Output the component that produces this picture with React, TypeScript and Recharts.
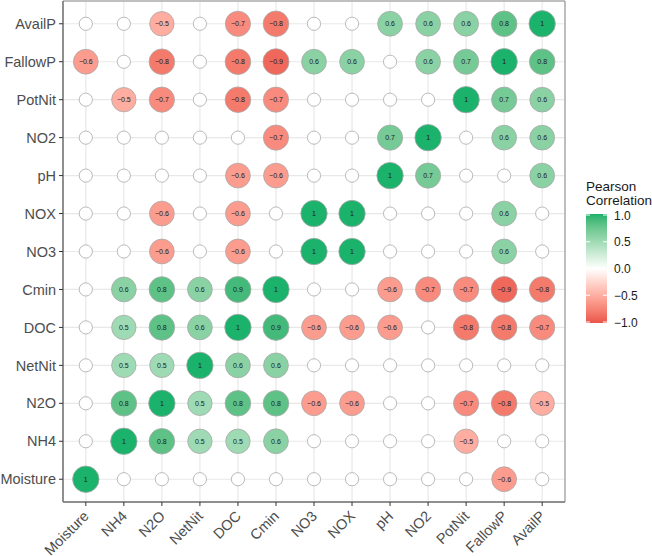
import React from "react"
import {
  ScatterChart,
  Scatter,
  XAxis,
  YAxis,
  CartesianGrid,
  ReferenceArea,
} from "recharts"

const vars = ["Moisture", "NH4", "N2O", "NetNit", "DOC", "Cmin", "NO3", "NOX", "pH", "NO2", "PotNit", "FallowP", "AvailP"]

// one row per variable, bottom to top; columns in vars order; 0 = not shown
const moisture = [1, 0, 0, 0, 0, 0, 0, 0, 0, 0, 0, -0.6, 0]
const nh4 = [0, 1, 0.8, 0.5, 0.5, 0.6, 0, 0, 0, 0, -0.5, 0, 0]
const n2o = [0, 0.8, 1, 0.5, 0.8, 0.8, -0.6, -0.6, 0, 0, -0.7, -0.8, -0.5]
const netNit = [0, 0.5, 0.5, 1, 0.6, 0.6, 0, 0, 0, 0, 0, 0, 0]
const doc = [0, 0.5, 0.8, 0.6, 1, 0.9, -0.6, -0.6, -0.6, 0, -0.8, -0.8, -0.7]
const cmin = [0, 0.6, 0.8, 0.6, 0.9, 1, 0, 0, -0.6, -0.7, -0.7, -0.9, -0.8]
const no3 = [0, 0, -0.6, 0, -0.6, 0, 1, 1, 0, 0, 0, 0.6, 0]
const nox = [0, 0, -0.6, 0, -0.6, 0, 1, 1, 0, 0, 0, 0.6, 0]
const ph = [0, 0, 0, 0, -0.6, -0.6, 0, 0, 1, 0.7, 0, 0, 0.6]
const no2 = [0, 0, 0, 0, 0, -0.7, 0, 0, 0.7, 1, 0, 0.6, 0.6]
const potNit = [0, -0.5, -0.7, 0, -0.8, -0.7, 0, 0, 0, 0, 1, 0.7, 0.6]
const fallowP = [-0.6, 0, -0.8, 0, -0.8, -0.9, 0.6, 0.6, 0, 0.6, 0.7, 1, 0.8]
const availP = [0, 0, -0.5, 0, -0.7, -0.8, 0, 0, 0.6, 0.6, 0.6, 0.8, 1]

const rows = [moisture, nh4, n2o, netNit, doc, cmin, no3, nox, ph, no2, potNit, fallowP, availP]
const legendTicks = [1, 0.5, 0, -0.5, -1]

const data = rows.flatMap((row, r) => row.map((v, c) => ({ x: c, y: r, v })))
const idx = vars.map((_, i) => i)

const FONT = "'Liberation Sans', Arial, sans-serif"
const LOW = "#E9554A"
const HIGH = "#1BB26B"

// lab interpolation like scales::div_gradient_pal
function hexToRgb(h: string) {
  return [1, 3, 5].map((i) => parseInt(h.slice(i, i + 2), 16))
}
function lin(c: number) {
  c /= 255
  return c <= 0.04045 ? c / 12.92 : Math.pow((c + 0.055) / 1.055, 2.4)
}
function unlin(c: number) {
  const v = c <= 0.0031308 ? 12.92 * c : 1.055 * Math.pow(c, 1 / 2.4) - 0.055
  return Math.max(0, Math.min(255, Math.round(v * 255)))
}
const WX = 0.95047, WZ = 1.08883
function rgbToLab(rgb: number[]) {
  const [r, g, b] = rgb.map(lin)
  const X = (0.4124 * r + 0.3576 * g + 0.1805 * b) / WX
  const Y = 0.2126 * r + 0.7152 * g + 0.0722 * b
  const Z = (0.0193 * r + 0.1192 * g + 0.9505 * b) / WZ
  const f = (t: number) => (t > 0.008856 ? Math.cbrt(t) : 7.787 * t + 16 / 116)
  return [116 * f(Y) - 16, 500 * (f(X) - f(Y)), 200 * (f(Y) - f(Z))]
}
function labToRgb(lab: number[]) {
  const fy = (lab[0] + 16) / 116
  const fx = fy + lab[1] / 500
  const fz = fy - lab[2] / 200
  const inv = (t: number) => (t ** 3 > 0.008856 ? t ** 3 : (t - 16 / 116) / 7.787)
  const X = inv(fx) * WX, Y = inv(fy), Z = inv(fz) * WZ
  const r = 3.2406 * X - 1.5372 * Y - 0.4986 * Z
  const g = -0.9689 * X + 1.8758 * Y + 0.0415 * Z
  const b = 0.0557 * X - 0.204 * Y + 1.057 * Z
  return `rgb(${unlin(r)},${unlin(g)},${unlin(b)})`
}
const labLow = rgbToLab(hexToRgb(LOW))
const labHigh = rgbToLab(hexToRgb(HIGH))
const labMid = rgbToLab([255, 255, 255])
function fillFor(v: number) {
  const end = v < 0 ? labLow : labHigh
  const t = Math.min(1, Math.abs(v))
  return labToRgb(labMid.map((m, i) => m + (end[i] - m) * t))
}

function fmt(v: number) {
  if (Math.abs(v) === 1) return v < 0 ? "\u22121" : "1"
  const s = Math.abs(v).toFixed(1)
  return v < 0 ? "\u2212" + s : s
}

function Bubble(props: any) {
  const { cx, cy, payload } = props
  const v = payload.v
  if (v === 0) {
    return <circle cx={cx} cy={cy} r={6.6} fill="#ffffff" stroke="#a8a8a8" strokeWidth={0.8} />
  }
  const r = 11.2 + 2 * Math.abs(v)
  return (
    <g>
      <circle cx={cx} cy={cy} r={r} fill={fillFor(v)} stroke="#a8a8a8" strokeWidth={0.8} />
      <text x={cx} y={cy} textAnchor="middle" dominantBaseline="central" fontSize={7} fill="#1a1a1a" fontFamily={FONT}>
        {fmt(v)}
      </text>
    </g>
  )
}

function XTick(props: any) {
  const { x, y, payload } = props
  const tx = x + 4
  const ty = y + 9
  return (
    <text x={tx} y={ty} transform={`rotate(-45 ${tx} ${ty})`} textAnchor="end" fontSize={14.5} fill="#4d4d4d" fontFamily={FONT}>
      {vars[payload.value]}
    </text>
  )
}

function ColorLegend() {
  const top = 215
  const bottom = 322
  const stops = Array.from({ length: 21 }, (_, i) => 1 - i * 0.1)
  const yOf = (v: number) => top + ((1 - v) / 2) * (bottom - top)
  return (
    <svg width={652} height={556} style={{ position: "absolute", left: 0, top: 0, pointerEvents: "none" }}>
      <defs>
        <linearGradient id="corrbar" x1="0" y1="0" x2="0" y2="1">
          {stops.map((v, i) => (
            <stop key={i} offset={`${(i / 20) * 100}%`} stopColor={fillFor(v)} />
          ))}
        </linearGradient>
      </defs>
      <text x={586} y={191} fontSize={13.5} fill="#1a1a1a" fontFamily={FONT}>Pearson</text>
      <text x={586} y={205} fontSize={13.5} fill="#1a1a1a" fontFamily={FONT}>Correlation</text>
      <rect x={586} y={top - 1} width={21} height={bottom - top + 2} fill="url(#corrbar)" />
      {legendTicks.map((v) => (
        <g key={v}>
          <line x1={586} x2={590} y1={yOf(v)} y2={yOf(v)} stroke="#ffffff" strokeWidth={1} />
          <line x1={603} x2={607} y1={yOf(v)} y2={yOf(v)} stroke="#ffffff" strokeWidth={1} />
          <text x={614} y={yOf(v) + 0.5} dominantBaseline="central" fontSize={12} fill="#1a1a1a" fontFamily={FONT}>
            {v < 0 ? "\u2212" + Math.abs(v).toFixed(1) : v.toFixed(1)}
          </text>
        </g>
      ))}
    </svg>
  )
}

export default function App() {
  return (
    <div style={{ position: "absolute", left: 0, top: 0, width: 652, height: 556, background: "#ffffff" }}>
      <ScatterChart width={652} height={556} margin={{ top: 1, right: 87, bottom: 0, left: 0 }}>
        <CartesianGrid stroke="#e8e8e8" strokeWidth={1.2} />
        <XAxis
          type="number"
          dataKey="x"
          domain={[-0.6, 12.6]}
          ticks={idx}
          interval={0}
          allowDataOverflow
          height={54}
          tickSize={4}
          tickMargin={2}
          tickLine={{ stroke: "#333333" }}
          axisLine={{ stroke: "#7f7f7f", strokeWidth: 1.5 }}
          tick={<XTick />}
        />
        <YAxis
          type="number"
          dataKey="y"
          domain={[-0.6, 12.6]}
          ticks={idx}
          interval={0}
          allowDataOverflow
          width={63}
          tickSize={4}
          tickMargin={3}
          tickLine={{ stroke: "#333333" }}
          axisLine={{ stroke: "#7f7f7f", strokeWidth: 1.5 }}
          tickFormatter={(v: number) => vars[v]}
          tick={{ fontSize: 14.5, fill: "#4d4d4d", fontFamily: FONT }}
        />
        <ReferenceArea x1={-0.6} x2={12.6} y1={-0.6} y2={12.6} fill="none" stroke="#8c8c8c" strokeWidth={1} />
        <Scatter data={data} shape={<Bubble />} isAnimationActive={false} />
      </ScatterChart>
      <ColorLegend />
    </div>
  )
}
